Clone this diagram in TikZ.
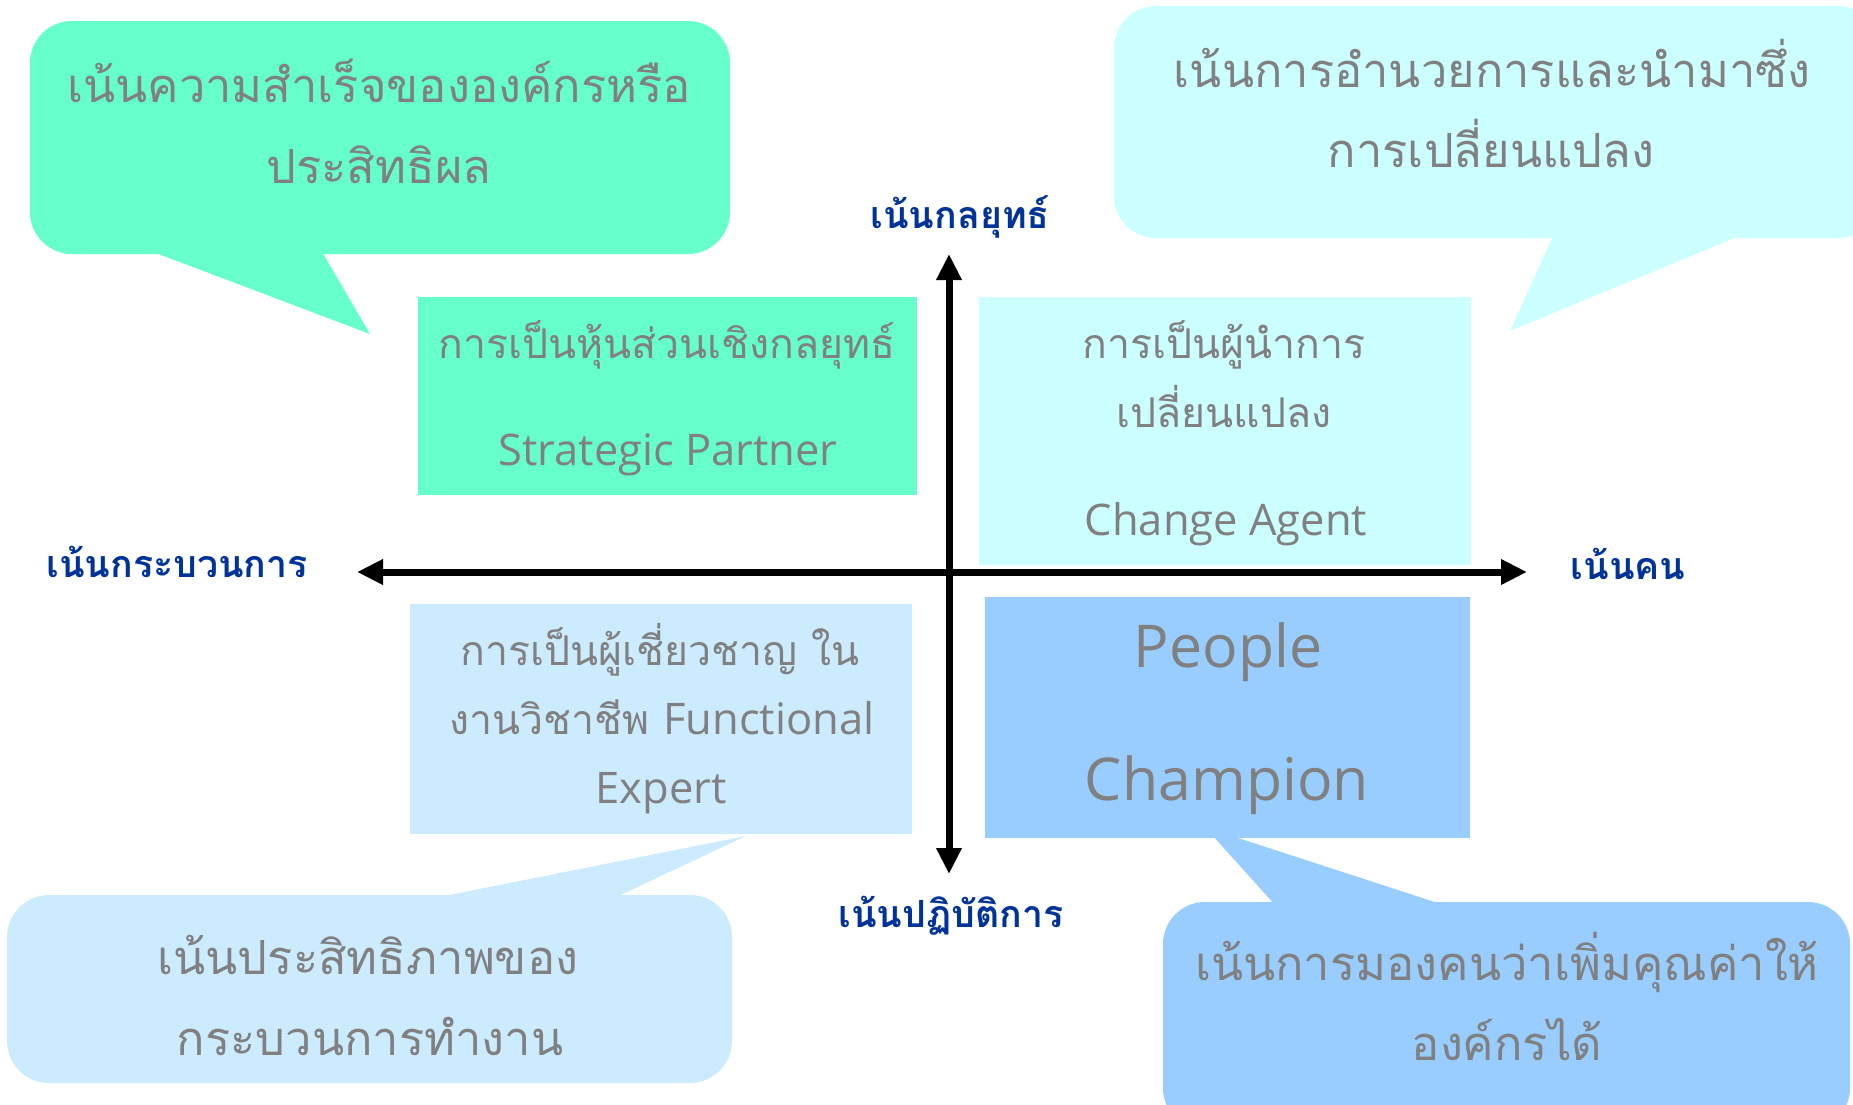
\documentclass[tikz,border=0pt]{standalone}
\usepackage{fontspec}
\setmainfont{Open Sans}
\newfontfamily\thai[Script=Thai]{Loma}
\usetikzlibrary{arrows.meta}
\definecolor{cgreen}{HTML}{66FFCC}
\definecolor{ccyan}{HTML}{CCFFFF}
\definecolor{clight}{HTML}{CCEBFF}
\definecolor{cblue}{HTML}{99CCFF}
\definecolor{cgray}{HTML}{808080}
\definecolor{cnavy}{HTML}{003399}
\tikzset{
  txt/.style={text=cgray, anchor=base, inner sep=0pt},
  bubthai/.style={txt, font=\thai\fontsize{47}{56}\selectfont},
  boxthai/.style={txt, font=\thai\fontsize{41}{48}\selectfont},
  boxlat/.style={txt, font=\fontsize{43.5}{50}\selectfont},
  biglat/.style={txt, font=\fontsize{59}{68}\selectfont},
  axlab/.style={text=cnavy, anchor=base, inner sep=0pt, font=\thai\bfseries\fontsize{37.5}{44}\selectfont},
  axis/.style={line width=7pt, {Triangle[length=26pt,width=24pt]}-{Triangle[length=26pt,width=24pt]}},
}
\begin{document}
\begin{tikzpicture}[x=1pt,y=-1pt]
\useasboundingbox (0,0) rectangle (1853,1104);
% ---- speech bubbles (back)
\fill[cgreen, rounded corners=42pt] (30,21) rectangle (730,254);
\fill[cgreen] (148,250) -- (370,334) -- (321,250) -- cycle;
\fill[ccyan, rounded corners=42pt] (1114,6) rectangle (1880,238);
\fill[ccyan] (1554,234) -- (1510,331) -- (1744,234) -- cycle;
\fill[clight, rounded corners=42pt] (7,895) rectangle (732,1083);
\fill[clight] (429,899) -- (746,836) -- (612,899) -- cycle;
\fill[cblue, rounded corners=42pt] (1163,902) rectangle (1850,1130);
\fill[cblue] (1276,906) -- (1213,836) -- (1232,836) -- (1447,906) -- cycle;
% ---- quadrant boxes
\node[fill=cgreen, inner sep=0pt, minimum width=499pt, minimum height=198pt] (sp) at (667.5,396) {};
\node[fill=ccyan, inner sep=0pt, minimum width=492pt, minimum height=268pt] (ca) at (1225,431) {};
\node[fill=clight, inner sep=0pt, minimum width=502pt, minimum height=230pt] (fe) at (661,719) {};
\node[fill=cblue, inner sep=0pt, minimum width=485pt, minimum height=241pt] (pc) at (1227.5,717.5) {};
% ---- axes
\coordinate (vtop) at (949,254);
\coordinate (vbot) at (949,874);
\coordinate (hl) at (357,572);
\coordinate (hr) at (1527,572);
\draw[axis] (vtop) -- (vbot);
\draw[axis] (hl) -- (hr);
\node[axlab] (lt) at (960,228) {เน้นกลยุทธ์};
\node[axlab] (ll) at (177,577) {เน้นกระบวนการ};
\node[axlab] (lr) at (1628,579) {เน้นคน};
\node[axlab] (lb) at (951,927) {เน้นปฏิบัติการ};
% ---- bubble texts
\node[bubthai] (t1a) at (379,102) {เน้นความสำเร็จขององค์กรหรือ};
\node[bubthai] (t1b) at (379,183) {ประสิทธิผล};
\node[bubthai] (t2a) at (1492,87) {เน้นการอำนวยการและนำมาซึ่ง};
\node[bubthai] (t2b) at (1491,167) {การเปลี่ยนแปลง};
\node[bubthai] (t3a) at (368,974) {เน้นประสิทธิภาพของ};
\node[bubthai] (t3b) at (370,1055) {กระบวนการทำงาน};
\node[bubthai] (t4a) at (1507,980) {เน้นการมองคนว่าเพิ่มคุณค่าให้};
\node[bubthai] (t4b) at (1507,1060) {องค์กรได้};
% ---- box texts
\node[boxthai] (s1) at (667,358) {การเป็นหุ้นส่วนเชิงกลยุทธ์};
\node[boxlat] (s2) at (668,465) {Strategic Partner};
\node[boxthai] (c1) at (1224,358) {การเป็นผู้นำการ};
\node[boxthai] (c2) at (1224,427) {เปลี่ยนแปลง};
\node[boxlat] (c3) at (1226,535) {Change Agent};
\node[boxthai] (f1) at (660,665) {การเป็นผู้เชี่ยวชาญ ใน};
\node[boxthai] (f2) at (662,734) {งานวิชาชีพ {\fontsize{43.5}{50}\selectfont\normalfont Functional}};
\node[boxlat] (f3) at (661,803) {Expert};
\node[biglat] (p1) at (1228,667) {People};
\node[biglat] (p2) at (1227,800) {Champion};
\end{tikzpicture}
\end{document}
